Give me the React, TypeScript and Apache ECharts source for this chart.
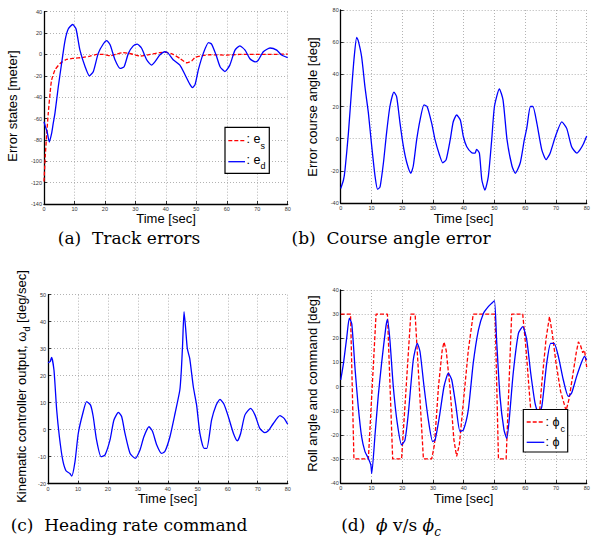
import React, { useEffect, useRef } from "react";
import * as echarts from "echarts";

// ---- Data ----
// (a) Track errors
const aTimeEs = [0, 0.4, 0.9, 1.4, 2, 2.5, 3.6, 5.3, 7.4, 9.6, 12.9, 15.1, 17.3, 19.5, 21.7, 23.9, 26, 28.9, 31.5, 34.8, 38, 40.3, 42.4, 44.6, 46.8, 48.5, 49.6, 51.2, 54.5, 60, 64.3, 73, 80];
const aEs = [-119, -96, -74, -55, -36, -24, -14.7, -8.4, -4.7, -3.7, -2.8, -1.6, 0, 0, -1.2, 0.4, 1.6, 0.4, -1.5, 0, 1.6, 2, 0, -3.7, -7.8, -6, -2.8, -1.5, -0.3, -0.6, 0, 0, 0.3];
const aTimeEd = [0, 0.5, 1, 1.75, 2.5, 3, 3.6, 4.7, 5.8, 6.9, 8, 9.4, 10.5, 11.8, 13.5, 14.9, 16.2, 17.8, 19.5, 20.6, 21.7, 23.3, 25, 26.3, 27.7, 29.3, 30.6, 32, 33.7, 35.3, 36.4, 38, 39.7, 40.8, 42.4, 44.6, 46.3, 47.9, 48.8, 49.6, 50.7, 52.3, 54, 55, 56.5, 57.8, 59.4, 61, 62.7, 64.3, 66, 67.6, 69.3, 70.3, 72, 74.2, 76.4, 78, 80];
const aEd = [-63, -68, -72, -82, -74, -65, -55, -30, -8, 13, 24, 28, 24, 4, -11.5, -20, -16, 1, 10, 13, 9, -5, -13, -11.5, 1, 8, 9.7, 6, -5, -10, -7, -0.6, 2.5, 1, -5, -10, -19, -28, -31, -28, -14, 1, 11, 9.7, -0.6, -11.5, -16, -10, 4, 8, 4, -4, -7, -5.5, 2.5, 6, 4, -0.6, -3];

// (b) Course angle error
const bTime = [0, 0.9, 1.4, 2.5, 3.6, 4.4, 5.2, 5.7, 6.8, 7.9, 9, 10, 11.2, 12, 12.8, 13.9, 14.9, 16, 17.3, 18.2, 19.3, 20.4, 21.5, 22.8, 23.6, 24.7, 25.8, 27.1, 28.1, 29.6, 30.7, 32.1, 33.2, 34.3, 35.6, 36.6, 37.7, 38.9, 39.9, 41, 42.6, 43.7, 44.2, 45.1, 45.9, 46.9, 48, 49.1, 50, 51.6, 52.8, 54.1, 55.7, 56.8, 58.4, 59.7, 60.5, 61.7, 62.5, 63.8, 65.4, 66.8, 68.1, 69.8, 71.9, 73.5, 75.1, 76.8, 77.8, 79, 80];
const bErr = [-31, -25.7, -19.5, 3.3, 32, 51, 63, 61, 51, 32, 16, -3, -23.8, -31.5, -30, -15, 3.3, 20, 29, 26, 9.5, -5, -15, -21.5, -17, -0.8, 11.6, 21, 20, 9.5, -0.8, -10, -15, -13, -0.8, 10.5, 14.7, 11.6, 1.2, -5, -8.7, -9, -6.6, -9, -25.7, -32, -23.6, -0.8, 20, 31, 24, -0.8, -17, -21.5, -15, -0.8, 6.4, 20, 20, 9.5, -7, -13, -9, 1.2, 10.5, 6.4, -5, -9, -7, -3, 1.6];

// (c) Heading rate command
const cTime = [0, 0.7, 1.2, 2, 2.9, 3.8, 4.9, 6, 7.3, 7.9, 9, 10.1, 11.6, 12.9, 14.2, 15.1, 16.2, 17.7, 19, 20.7, 22, 23.5, 24.6, 25.7, 27.4, 29.1, 30.7, 32, 33.7, 34.9, 36.3, 37.9, 39, 40.7, 42.4, 44, 44.5, 44.9, 45.4, 45.9, 46.5, 47.3, 48.5, 49.6, 50.7, 52.1, 53, 54.6, 56.1, 57.4, 58.7, 60.2, 61.9, 63.2, 64.3, 65.7, 67.6, 69.1, 70.7, 72.4, 73.5, 75.2, 77.4, 78.8, 80];
const cRate = [24.8, 25.2, 26.8, 22, 7.3, -2.6, -11.2, -15.2, -16.2, -17.2, -11.9, -1.4, 6, 10.4, 9.1, 4.8, -3.8, -10, -9.4, -3.8, 3.6, 6.4, 4.8, -1.4, -8.8, -10.6, -7.5, -2.6, 1.1, -0.7, -5.7, -8.8, -8.1, -2.6, 6, 14.7, 22, 31, 43.7, 38, 30, 26.4, 15.9, 9.1, -1.4, -6.9, -6.9, 3.6, 9.1, 11.2, 9.5, 4.8, -1.4, -4.1, -1.4, 5.4, 7.9, 5.4, 0.5, -1.1, -0.4, 2.3, 5.2, 4.2, 2];

// (d) Roll angle and command
const dTimeCmd = [0, 3.2, 4.3, 9.0, 11.5, 15.2, 16.9, 19.8, 22.8, 24.2, 26.9, 29.6, 30.5, 31.8, 33, 33.6, 34.3, 35.5, 36.8, 37.7, 38.6, 40, 41.5, 43.1, 50.2, 51.3, 53.8, 55.6, 59.2, 60.3, 61.5, 62.5, 63.2, 64, 65.3, 66.8, 67.9, 68.8, 70, 71.5, 73.3, 74.3, 75.5, 76.6, 77.3, 78, 78.7, 79.3, 80];
const dCmd = [30, 30, -30, -30, 30, 30, -30, -30, 30, 30, -30, -30, -24, 0, 15, 18.4, 15, 0, -22, -29, -24, -5, 15, 30, 30, -30, -30, 30, 30, 15, -5, -20, -27, -22, 0, 20, 29, 22, 10, -2, -10, -5, 5, 14, 18.5, 17, 14, 15, 8];
const dTimeRoll = [0, 0.9, 2, 2.8, 3.6, 4.7, 5.7, 6.8, 7.9, 9, 9.8, 10.1, 11.2, 12.2, 13.3, 14.7, 15.2, 16, 17.1, 18.4, 19.8, 20.9, 22, 23.6, 24.9, 25.8, 27.1, 28.5, 29.9, 30.7, 32.1, 33.6, 35, 36.1, 37.5, 38.8, 39.9, 41.5, 43.1, 44.8, 46.4, 48, 49.1, 50, 50.7, 51.8, 53.1, 54, 54.8, 56.1, 57.8, 59.2, 60.5, 61.8, 63.2, 64.3, 65.4, 67, 68.3, 69.4, 70.8, 72.4, 74, 75.1, 76.7, 78.4, 79.3, 80];
const dRoll = [2.7, 9.6, 20.7, 28.3, 26, 6.8, -8.3, -20.8, -27, -29.8, -32.5, -36, -19.4, -4.1, 9.7, 24.8, 27.8, 19.3, 0, -15.2, -24.2, -22.2, -11.1, 11, 17.9, 14.4, 0, -13.8, -22.8, -22.2, -12.5, 0, 5.5, 2.8, -8.3, -18.6, -18, -9.7, 9.7, 23.5, 30.3, 33.1, 34.5, 35.6, 19.3, -4.1, -18, -21.5, -13.8, 5.5, 22, 24.8, 19.3, 5.5, -6.9, -11.1, -8.3, 9.7, 17.9, 17.9, 12.4, 2.7, -4.1, -2.7, 4.1, 10.3, 12.5, 11];

// Axis ranges / ticks
const xRange = [0, 80, 10];
const yRanges = [
  [-140, 40, 20],
  [-40, 80, 20],
  [-20, 50, 10],
  [-40, 40, 10],
];

const pairs = (t: number[], v: number[]) => t.map((x, i) => [x, v[i]]);

const SANS = "Liberation Sans";
const SERIF = "DejaVu Serif";
const BLUE = "#0000ff";
const RED = "#ff0000";

export default function App() {
  const ref = useRef<HTMLDivElement>(null);
  useEffect(() => {
    if (!ref.current) return;
    const chart = echarts.init(ref.current, undefined, { renderer: "svg" });
    const grids = [
      { left: 44, top: 11.7, width: 243.7, height: 192.3 },
      { left: 340.7, top: 10, width: 246, height: 193 },
      { left: 48, top: 294.7, width: 239.7, height: 189 },
      { left: 340.7, top: 290, width: 246, height: 193 },
    ];
    const axisCommon = {
      type: "value" as const,
      axisLine: { show: true, onZero: false, lineStyle: { color: "#000", width: 1.3 } },
      axisTick: { show: true, inside: true, length: 3, lineStyle: { color: "#000", width: 0.8 } },
      axisLabel: { fontSize: 5.5, color: "#333", fontFamily: SANS, margin: 2 },
      splitLine: { show: true, lineStyle: { color: "#a0a0a0", width: 0.8, type: [1, 2] } },
    };
    const xAxis = grids.map((_, i) => ({
      ...axisCommon,
      gridIndex: i,
      min: xRange[0],
      max: xRange[1],
      interval: xRange[2],
    }));
    const yAxis = grids.map((_, i) => ({
      ...axisCommon,
      gridIndex: i,
      min: yRanges[i][0],
      max: yRanges[i][1],
      interval: yRanges[i][2],
    }));
    const blueLine = { color: BLUE, width: 1.3 };
    const redLine = { color: RED, width: 1.3, type: [4, 2] };
    const series: any[] = [
      { type: "line", xAxisIndex: 0, yAxisIndex: 0, data: pairs(aTimeEs, aEs), showSymbol: false, lineStyle: redLine, smooth: 0.2 },
      { type: "line", xAxisIndex: 0, yAxisIndex: 0, data: pairs(aTimeEd, aEd), showSymbol: false, lineStyle: blueLine, smooth: 0.2 },
      { type: "line", xAxisIndex: 1, yAxisIndex: 1, data: pairs(bTime, bErr), showSymbol: false, lineStyle: blueLine, smooth: 0.2 },
      { type: "line", xAxisIndex: 2, yAxisIndex: 2, data: pairs(cTime, cRate), showSymbol: false, lineStyle: blueLine, smooth: 0.2 },
      { type: "line", xAxisIndex: 3, yAxisIndex: 3, data: pairs(dTimeCmd, dCmd), showSymbol: false, lineStyle: redLine },
      { type: "line", xAxisIndex: 3, yAxisIndex: 3, data: pairs(dTimeRoll, dRoll), showSymbol: false, lineStyle: blueLine, smooth: 0.2 },
    ];

    const txt = (x: number, y: number, text: string, opts: any = {}) => ({
      type: "text",
      x,
      y,
      z: 100,
      rotation: opts.rotation || 0,
      style: {
        text,
        fontSize: opts.fontSize || 13,
        fontFamily: opts.fontFamily || SANS,
        fontStyle: opts.fontStyle || "normal",
        fontWeight: "normal",
        fill: "#000",
        align: opts.align || "center",
        verticalAlign: opts.verticalAlign || "middle",
        textAlign: opts.align || "center",
        textVerticalAlign: opts.verticalAlign || "middle",
        rich: opts.rich,
      },
    });
    const R = Math.PI / 2;
    const graphic: any[] = [
      // x axis titles
      txt(166, 218, "Time [sec]"),
      txt(463.5, 218, "Time [sec]"),
      txt(167.5, 498, "Time [sec]"),
      txt(463.5, 498, "Time [sec]"),
      // y axis titles
      txt(12, 106, "Error states [meter]", { rotation: R }),
      txt(312, 107, "Error course angle [deg]", { rotation: R }),
      txt(21, 386.5, "{n|Kinematic controller output, ω}{s|d}{n| [deg/sec]}", {
        rotation: R,
        rich: {
          n: { fontSize: 13, fontFamily: SANS, lineHeight: 20, verticalAlign: "middle" },
          s: { fontSize: 9, fontFamily: SANS, lineHeight: 20, verticalAlign: "bottom" },
        },
      }),
      txt(312, 383.5, "Roll angle and command [deg]", { rotation: R }),
      // captions
      txt(129, 238, "(a)  Track errors", { fontFamily: SERIF, fontSize: 17 }),
      txt(391, 238, "(b)  Course angle error", { fontFamily: SERIF, fontSize: 17 }),
      txt(129, 525, "(c)  Heading rate command", { fontFamily: SERIF, fontSize: 17 }),
      txt(391, 525, "{n|(d)  }{i|ϕ}{n| v/s }{i|ϕ}{c|c}", {
        rich: {
          n: { fontSize: 17, fontFamily: SERIF, lineHeight: 26, verticalAlign: "middle" },
          i: { fontSize: 17, fontFamily: SERIF, fontStyle: "italic", lineHeight: 26, verticalAlign: "middle" },
          c: { fontSize: 12, fontFamily: SERIF, fontStyle: "italic", lineHeight: 26, verticalAlign: "bottom" },
        },
      }),
      // legend (a)
      { type: "rect", z: 99, shape: { x: 225, y: 127.3, width: 44.3, height: 46 }, style: { fill: "#fff", stroke: "#000", lineWidth: 1.2 } },
      { type: "line", z: 100, shape: { x1: 228.3, y1: 140.7, x2: 245, y2: 140.7 }, style: { stroke: RED, lineWidth: 1.3, lineDash: [4, 2] } },
      { type: "line", z: 100, shape: { x1: 228.3, y1: 161.7, x2: 245, y2: 161.7 }, style: { stroke: BLUE, lineWidth: 1.3 } },
      txt(246.5, 139, ": e", { align: "left", fontSize: 12.5 }),
      txt(260.5, 145.5, "s", { align: "left", fontSize: 9 }),
      txt(246.5, 160, ": e", { align: "left", fontSize: 12.5 }),
      txt(260.5, 166, "d", { align: "left", fontSize: 9 }),
      // legend (d)
      { type: "rect", z: 99, shape: { x: 523.3, y: 409.5, width: 44.4, height: 42.5 }, style: { fill: "#fff", stroke: "#000", lineWidth: 1.2 } },
      { type: "line", z: 100, shape: { x1: 526.7, y1: 422, x2: 544.3, y2: 422 }, style: { stroke: RED, lineWidth: 1.3, lineDash: [4, 2] } },
      { type: "line", z: 100, shape: { x1: 526.7, y1: 442.3, x2: 544.3, y2: 442.3 }, style: { stroke: BLUE, lineWidth: 1.3 } },
      txt(545.5, 421.5, ": ϕ", { align: "left", fontSize: 12.5 }),
      txt(560.5, 428.5, "c", { align: "left", fontSize: 9 }),
      txt(545.5, 442, ": ϕ", { align: "left", fontSize: 12.5 }),
    ];

    chart.setOption({
      animation: false,
      backgroundColor: "#fff",
      grid: grids.map((g) => ({ ...g, containLabel: false })),
      xAxis,
      yAxis,
      series,
      graphic,
    });
    return () => chart.dispose();
  }, []);
  return (
    <div
      ref={ref}
      style={{ position: "absolute", left: 0, top: 0, width: 597, height: 543 }}
    />
  );
}
